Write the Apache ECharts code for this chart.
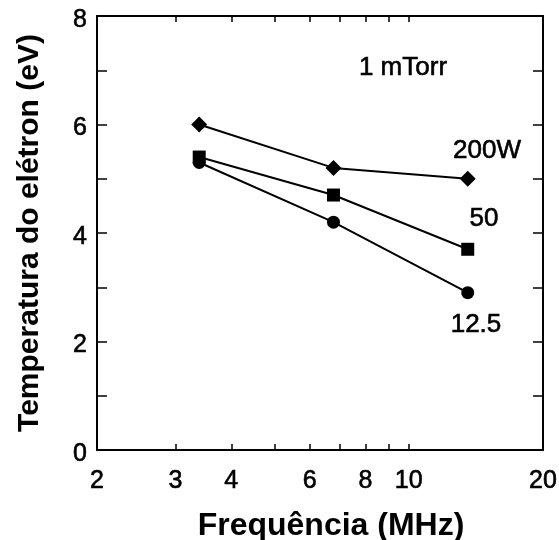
<!DOCTYPE html>
<html><head><meta charset="utf-8">
<script src="https://cdn.jsdelivr.net/npm/echarts@6/dist/echarts.min.js"></script>
<style>html,body{margin:0;padding:0;background:#fff}#c{width:559px;height:540px}</style>
</head><body><div id="c"></div>
<script>
const freqs = [3.39, 6.78, 13.56];
const t200 = [6.0, 5.2, 5.0];
const t50 = [5.4, 4.7, 3.7];
const t12 = [5.3, 4.2, 2.9];
const xTickLabels = [2, 3, 4, 6, 8, 10, 20];
const xTicks = [3, 4, 5, 6, 7, 8, 9, 10];

const font = '"Liberation Sans", Arial, sans-serif';
const pair = (ys) => freqs.map((f, i) => [f, ys[i]]);
const chart = echarts.init(document.getElementById('c'));
const lineStyle = () => ({ color: '#000', width: 2 });
const frame = () => ({ show: true, onZero: false, lineStyle: { color: '#000', width: 2 } });
const tickStyle = () => ({ color: '#000', width: 1.5 });
const txt = () => ({ fontFamily: font, color: '#000', textBorderColor: '#000', textBorderWidth: 0.6 });
function ann(text, x, y) {
  return { type: 'text', x, y, style: { text, font: '26px ' + font, fill: '#000', stroke: '#000', lineWidth: 0.6, align: 'center', verticalAlign: 'middle' } };
}
chart.setOption({
  animation: false,
  backgroundColor: '#fff',
  grid: [
    { left: 97, right: 16, top: 16, bottom: 90, containLabel: false, outerBoundsMode: 'none' },
    { left: 97, right: 16, top: 15, height: 1, containLabel: false, outerBoundsMode: 'none' }
  ],
  xAxis: [{
    gridIndex: 0, type: 'log', logBase: 10, min: 2, max: 20, position: 'bottom',
    name: 'Frequência (MHz)', nameLocation: 'middle', nameGap: 60,
    nameTextStyle: { fontFamily: font, fontSize: 32, fontWeight: 'bold', color: '#000', padding: [0, 0, 0, 22] },
    axisLine: frame(),
    axisTick: { inside: true, length: 6, lineStyle: tickStyle(), customValues: xTicks.slice() },
    axisLabel: Object.assign({ fontSize: 25, margin: 19, customValues: xTickLabels.slice(), formatter: v => String(Math.round(v)) }, txt()),
    splitLine: { show: false }
  }, {
    gridIndex: 0, type: 'log', logBase: 10, min: 2, max: 20, position: 'top',
    axisLine: frame(),
    axisTick: { show: false },
    axisLabel: { show: false },
    splitLine: { show: false }
  }, {
    gridIndex: 1, type: 'log', logBase: 10, min: 2, max: 20, position: 'bottom',
    axisLine: { show: false, onZero: false },
    axisTick: { show: true, inside: false, length: 6, lineStyle: tickStyle(), customValues: xTicks.slice() },
    axisLabel: { show: false, customValues: xTicks.slice() },
    splitLine: { show: false }
  }],
  yAxis: [{
    gridIndex: 0, type: 'value', min: 0, max: 8, interval: 2,
    name: 'Temperatura do elétron (eV)', nameLocation: 'middle', nameGap: 52,
    nameTextStyle: { fontFamily: font, fontSize: 30, fontWeight: 'bold', color: '#000' },
    axisLine: frame(),
    axisTick: { inside: true, length: 10, lineStyle: tickStyle() },
    minorTick: { show: true, splitNumber: 2, length: 10, lineStyle: tickStyle() },
    axisLabel: Object.assign({ fontSize: 25, margin: 10, verticalAlign: 'top', lineHeight: 8 }, txt()),
    splitLine: { show: false }
  }, {
    gridIndex: 0, type: 'value', min: 0, max: 8, interval: 2, position: 'right',
    axisLine: frame(),
    axisTick: { inside: true, length: 10, lineStyle: tickStyle() },
    minorTick: { show: true, splitNumber: 2, length: 10, lineStyle: tickStyle() },
    axisLabel: { show: false }, splitLine: { show: false }
  }, {
    gridIndex: 1, type: 'value', min: 0, max: 1, show: false
  }],
  series: [
    { type: 'line', xAxisIndex: 0, yAxisIndex: 0, data: pair(t200), symbol: 'diamond', symbolSize: 16, lineStyle: lineStyle(), itemStyle: { color: '#000' } },
    { type: 'line', xAxisIndex: 0, yAxisIndex: 0, data: pair(t50), symbol: 'rect', symbolSize: 13, lineStyle: lineStyle(), itemStyle: { color: '#000' } },
    { type: 'line', xAxisIndex: 0, yAxisIndex: 0, data: pair(t12), symbol: 'circle', symbolSize: 13, lineStyle: lineStyle(), itemStyle: { color: '#000' } }
  ],
  graphic: [
    ann('1 mTorr', 403, 68),
    ann('200W', 487, 151),
    ann('50', 484, 219),
    ann('12.5', 476, 325)
  ]
});
</script></body></html>
